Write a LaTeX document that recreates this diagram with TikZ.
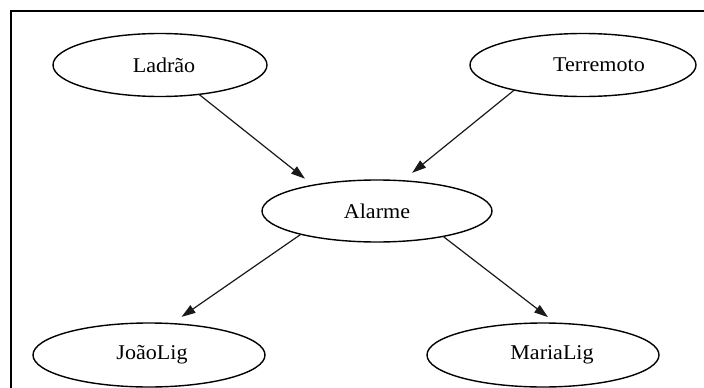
\documentclass[tikz,border=0pt]{standalone}
\usepackage{fontspec}
\setmainfont{Liberation Serif}[FakeStretch=1.05]
\usetikzlibrary{shapes.geometric,arrows.meta}

% label pushed right inside its ellipse by #1
\newcommand{\pushlabel}[2]{\hspace*{#1}#2}

\tikzset{
  var/.style={ellipse, draw=black, line width=1.4pt, inner sep=0pt, outer sep=0pt,
    minimum height=63pt, font=\fontsize{21}{24}\selectfont, text=black},
  edge/.style={draw=black!90, line width=1.2pt,
    -{Triangle[length=14pt,width=9pt]}},
  frameline/.style={draw=black, line width=2.4pt}
}

\begin{document}
\begin{tikzpicture}[x=1pt, y=-1pt]
  \useasboundingbox (0,0) rectangle (704,388);

  % open frame: top and left sides only
  \coordinate (fl) at (11,388);
  \coordinate (fc) at (11,11);
  \coordinate (fr) at (704,11);
  \draw[frameline] (fl) -- (fc) -- (fr);

  % variables of the network
  \node[var, minimum width=214pt] (lad) at (160,65)  {\pushlabel{8pt}{Ladrão}};
  \node[var, minimum width=226pt] (ter) at (583,65)  {\pushlabel{32pt}{Terremoto}};
  \node[var, minimum width=230pt, minimum height=62pt] (ala) at (377,211) {Alarme};
  \node[var, minimum width=232pt, minimum height=64pt] (joa) at (149,355) {\pushlabel{6pt}{JoãoLig}};
  \node[var, minimum width=232pt, minimum height=64pt] (mar) at (543,355) {\pushlabel{18pt}{MariaLig}};

  % dependencies
  \draw[edge, shorten >=10.5pt] (lad.323.4) -- (ala.158.9);
  \draw[edge, shorten >=12.6pt] (ter.200.6) -- (ala.50.3);
  \draw[edge, shorten >=11.8pt] (ala.197.7) -- (joa.54.7);
  \draw[edge, shorten >=9.8pt]  (ala.339.9) -- (mar.68.3);
\end{tikzpicture}
\end{document}
